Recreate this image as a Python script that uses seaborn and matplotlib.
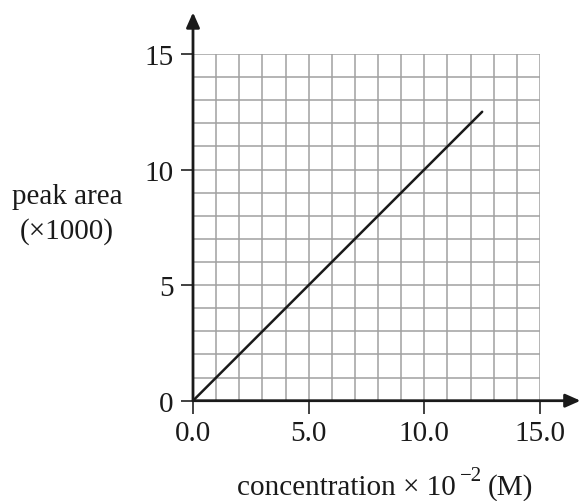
import matplotlib
matplotlib.use("Agg")
import matplotlib.pyplot as plt
import seaborn as sns
import pandas as pd
import numpy as np

concentration = [0.0, 12.5]
peak_area = [0.0, 12.5]
x_ticks = [0, 5, 10, 15]
x_tick_labels = ["0.0", "5.0", "10.0", "15.0"]
y_ticks = [0, 5, 10, 15]
y_tick_labels = ["0", "5", "10", "15"]

sns.set_style("white")
plt.rcParams['font.family'] = ['Liberation Serif', 'DejaVu Serif']

W, H = 582, 502
fig = plt.figure(figsize=(5.82, 5.02), dpi=100)
ax = fig.add_axes([193/W, 1 - 401.7/H, 347/W, 346.7/H])

df = pd.DataFrame({"conc": concentration, "area": peak_area})
sns.lineplot(data=df, x="conc", y="area", ax=ax, color="#1a1a1a", lw=1.8, zorder=5)

ax.set_xlim(0, 15)
ax.set_ylim(0, 15)
ax.set_xticks(x_ticks)
ax.set_xticklabels(x_tick_labels)
ax.set_yticks(y_ticks)
ax.set_yticklabels(y_tick_labels)
ax.set_xticks(np.arange(0, 16, 1), minor=True)
ax.set_yticks(np.arange(0, 16, 1), minor=True)
ax.grid(True, which="both", color="#a0a0a0", lw=1.1, zorder=0)
ax.set_axisbelow(True)
ax.tick_params(which="minor", length=0, bottom=False, left=False)
ax.tick_params(which="major", bottom=True, left=True, direction="out",
               length=9.0, width=1.3, color="#333333", labelsize=21, pad=5,
               labelcolor="#1a1a1a")
for s in ax.spines.values():
    s.set_visible(False)
ax.set_xlabel("")
ax.set_ylabel("")

arrow = dict(arrowstyle="-|>,head_length=0.9,head_width=0.4", lw=2.0,
             color="#1a1a1a", shrinkA=0, shrinkB=0)
ax.annotate("", xy=(16.75, 0), xytext=(0, 0), arrowprops=arrow,
            annotation_clip=False, zorder=6)
ax.annotate("", xy=(0, 16.8), xytext=(0, 0), arrowprops=arrow,
            annotation_clip=False, zorder=6)

fig.text(67/W, 1 - 197/H, "peak area", ha="center", va="center",
         fontsize=21, color="#1a1a1a")
fig.text(67/W, 1 - 232/H, "(×1000)", ha="center", va="center",
         fontsize=21, color="#1a1a1a")
fig.text(237/W, 1 - 495/H, "concentration × 10", ha="left", va="baseline",
         fontsize=21, color="#1a1a1a")
fig.text(460/W, 1 - 481/H, "−2", ha="left", va="baseline",
         fontsize=15, color="#1a1a1a")
fig.text(488/W, 1 - 495/H, "(M)", ha="left", va="baseline",
         fontsize=21, color="#1a1a1a")

fig.savefig("out.png", dpi=100)
